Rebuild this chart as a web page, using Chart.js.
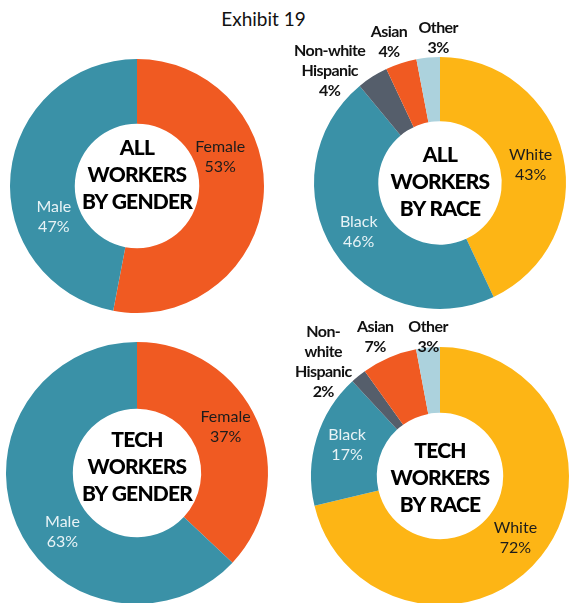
<!DOCTYPE html>
<html><head><meta charset="utf-8">
<script src="https://cdn.jsdelivr.net/npm/chart.js@4.4.1/dist/chart.umd.min.js"></script>
<style>
html,body{margin:0;padding:0;background:#fff;}
#wrap{position:relative;width:569px;height:603px;overflow:hidden;background:#fff;}
#title{position:absolute;left:0;width:527px;top:7px;text-align:center;font:19px Lato,"Open Sans",sans-serif;color:#111;}
canvas{position:absolute;}
</style></head><body>
<div id="wrap">
<div id="title">Exhibit 19</div>
<canvas id="c1" width="340" height="340" style="left:-33px;top:16px"></canvas>
<canvas id="c2" width="340" height="340" style="left:270px;top:13px"></canvas>
<canvas id="c3" width="340" height="340" style="left:-33px;top:303px"></canvas>
<canvas id="c4" width="340" height="340" style="left:270px;top:306px"></canvas>
</div>
<script>
// ---- data ----
const genderLabels = ['Female', 'Male'];
const allGender = [53, 47];
const techGender = [37, 63];
const raceLabels = ['White', 'Black', 'Non-white Hispanic', 'Asian', 'Other'];
const allRace = [43, 46, 4, 4, 3];
const techRace = [72, 17, 2, 7, 3];

// ---- styling ----
const TEAL = '#3a91a7', ORANGE = '#f05a22', GOLD = '#fdb515', SLATE = '#555e6b', LIGHT = '#acd2dd';
const genderColors = [ORANGE, TEAL];
const raceColors = [GOLD, TEAL, SLATE, ORANGE, LIGHT];
const FONT = 'Lato, "Open Sans", sans-serif';
const inDark = {font: '16px ' + FONT, color: '#1c1c1c', lh: 20};
const inLight = {font: '16px ' + FONT, color: '#e8f3f6', lh: 20};
const outBold = {font: 'bold 16px ' + FONT, color: '#111', lh: 20, ls: '-0.6px'};

const sliceLabels = {
  id: 'sliceLabels',
  afterDatasetsDraw(chart) {
    const cfg = chart.options.plugins.sliceLabels;
    const ctx = chart.ctx;
    const meta = chart.getDatasetMeta(0);
    const ds = chart.data.datasets[0];
    ctx.save();
    ctx.textAlign = 'center';
    ctx.textBaseline = 'middle';
    meta.data.forEach((arc, i) => {
      const L = cfg.items[i];
      const p = arc.tooltipPosition();
      const lines = L.name.concat([ds.data[i] + '%']);
      const st = L.style;
      ctx.font = st.font;
      ctx.fillStyle = st.color;
      ctx.letterSpacing = st.ls || '0px';
      const n = lines.length;
      lines.forEach((t, k) => ctx.fillText(t, p.x + L.dx, p.y + L.dy + (k - (n - 1) / 2) * st.lh));
    });
    const a = meta.data[0];
    ctx.font = '900 21px ' + FONT;
    ctx.fillStyle = '#000';
    ctx.letterSpacing = '-0.8px';
    const c = cfg.center;
    c.lines.forEach((t, k) => ctx.fillText(t, a.x, a.y + c.dy + (k - 1) * 27));
    ctx.restore();
  }
};

function make(id, labels, data, colors, radius, items, center) {
  new Chart(document.getElementById(id), {
    type: 'doughnut',
    data: {labels: labels, datasets: [{data: data, backgroundColor: colors, borderWidth: 0, hoverOffset: 0}]},
    options: {
      responsive: false, animation: false, devicePixelRatio: 1,
      radius: radius, cutout: '49%',
      layout: {padding: 0},
      events: [],
      plugins: {legend: {display: false}, tooltip: {enabled: false}, title: {display: false},
        sliceLabels: {items: items, center: center}}
    },
    plugins: [sliceLabels]
  });
}

make('c1', genderLabels, allGender, genderColors, 127, [
  {name: ['Female'], style: inDark, dx: -11, dy: -38},
  {name: ['Male'], style: inLight, dx: 11, dy: 40}
], {lines: ['ALL', 'WORKERS', 'BY GENDER'], dy: -11});

make('c2', raceLabels, allRace, raceColors, 126, [
  {name: ['White'], style: inDark, dx: -1, dy: 2},
  {name: ['Black'], style: inLight, dx: -2, dy: -1},
  {name: ['Non-white', 'Hispanic'], style: outBold, dx: -60, dy: -33},
  {name: ['Asian'], style: outBold, dx: -22, dy: -52},
  {name: ['Other'], style: outBold, dx: 7, dy: -52}
], {lines: ['ALL', 'WORKERS', 'BY RACE'], dy: -1});

make('c3', genderLabels, techGender, genderColors, 131, [
  {name: ['Female'], style: inDark, dx: -1, dy: -7},
  {name: ['Male'], style: inLight, dx: 15, dy: 20}
], {lines: ['TECH', 'WORKERS', 'BY GENDER'], dy: -6});

make('c4', raceLabels, techRace, raceColors, 129, [
  {name: ['White'], style: inDark, dx: 0, dy: 2},
  {name: ['Black'], style: inLight, dx: -1, dy: -3},
  {name: ['Non-', 'white', 'Hispanic'], style: outBold, dx: -56, dy: -40},
  {name: ['Asian'], style: outBold, dx: -27, dy: -51},
  {name: ['Other'], style: outBold, dx: -3, dy: -43}
], {lines: ['TECH', 'WORKERS', 'BY RACE'], dy: 2});
</script>
</body></html>
